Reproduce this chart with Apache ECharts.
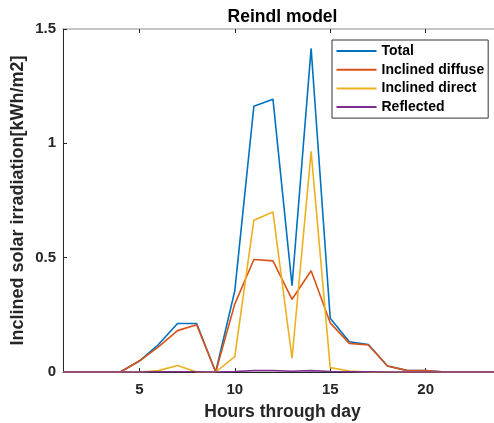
<!DOCTYPE html>
<html>
<head>
<meta charset="utf-8">
<script src="https://cdn.jsdelivr.net/npm/echarts@6/dist/echarts.min.js"></script>
<style>
  html, body { margin: 0; padding: 0; background: #fff; }
  #chart { width: 494px; height: 423px; }
</style>
</head>
<body>
<div id="chart"></div>
<script>
// Hourly irradiation components on the inclined plane (Reindl model)
const hours = [1, 2, 3, 4, 5, 6, 7, 8, 9, 10, 11, 12, 13, 14, 15, 16, 17, 18, 19, 20, 21, 22, 23, 24];
const total     = [0, 0, 0, 0, 0.048, 0.12, 0.212, 0.212, 0, 0.355, 1.162, 1.193, 0.377, 1.415, 0.235, 0.132, 0.12, 0.026, 0.007, 0.006, 0, 0, 0, 0];
const diffuse   = [0, 0, 0, 0, 0.048, 0.11, 0.181, 0.207, 0, 0.297, 0.492, 0.486, 0.318, 0.443, 0.215, 0.125, 0.118, 0.026, 0.007, 0.006, 0, 0, 0, 0];
const direct    = [0, 0, 0, 0, 0, 0.006, 0.028, 0, 0, 0.067, 0.664, 0.70, 0.06, 0.965, 0.019, 0.004, 0, 0, 0, 0, 0, 0, 0, 0];
const reflected = [0, 0, 0, 0, 0, 0.001, 0.001, 0.001, 0, 0.002, 0.006, 0.006, 0.003, 0.006, 0.002, 0.001, 0.001, 0, 0, 0, 0, 0, 0, 0];

const seriesNames = ['Total', 'Inclined diffuse', 'Inclined direct', 'Reflected'];
const seriesData = [total, diffuse, direct, reflected];
const colors = ['#0072BD', '#D95319', '#EDB120', '#7E2F8E'];

const xTicks = [5, 10, 15, 20];
const yTicks = [0, 0.5, 1, 1.5];

const FONT = "'Liberation Sans', Arial, Helvetica, sans-serif";
const INK = '#262626';

const chart = echarts.init(document.getElementById('chart'), null, { renderer: 'canvas' });

const baseX = {
  type: 'value',
  min: 1,
  max: 24,
  splitLine: { show: false },
  axisTick: { show: true, inside: true, length: 4, customValues: xTicks, lineStyle: { color: INK, width: 1 } }
};

chart.setOption({
  animation: false,
  color: colors,
  grid: { left: 63, top: 29, width: 439, height: 343, containLabel: false, outerBoundsMode: 'none' },
  graphic: [{
    type: 'text',
    x: 282.5,
    y: 17,
    style: {
      text: 'Reindl model',
      font: 'bold 17.5px ' + FONT,
      fill: '#000',
      textAlign: 'center',
      textVerticalAlign: 'middle'
    }
  }],
  legend: {
    orient: 'vertical',
    left: 332,
    top: 40,
    padding: [3, 4, 3, 4.5],
    itemGap: 2.7,
    itemWidth: 40,
    itemHeight: 2,
    icon: 'rect',
    backgroundColor: '#fff',
    borderColor: '#333',
    borderWidth: 1,
    borderRadius: 0,
    textStyle: { fontFamily: FONT, fontWeight: 'bold', fontSize: 14, lineHeight: 16, color: '#000' },
    data: seriesNames
  },
  xAxis: [
    Object.assign({}, baseX, {
      position: 'bottom',
      name: 'Hours through day',
      nameLocation: 'middle',
      nameGap: 31,
      nameMoveOverlap: false,
      nameTextStyle: { fontFamily: FONT, fontWeight: 'bold', fontSize: 17.5, color: INK },
      axisLine: { show: true, onZero: false, lineStyle: { color: INK, width: 1 } },
      axisLabel: {
        show: true,
        customValues: xTicks,
        margin: 10,
        fontFamily: FONT, fontWeight: 'bold', fontSize: 15, color: INK
      }
    }),
    Object.assign({}, baseX, {
      position: 'top',
      axisLine: { show: true, onZero: false, lineStyle: { color: '#b4b4b4', width: 1.5 } },
      axisLabel: { show: false }
    })
  ],
  yAxis: {
    type: 'value',
    min: 0,
    max: 1.5,
    interval: 0.5,
    name: 'Inclined solar irradiation[kWh/m2]',
    nameLocation: 'middle',
    nameGap: 36,
    nameMoveOverlap: false,
    nameTextStyle: { fontFamily: FONT, fontWeight: 'bold', fontSize: 18, color: INK },
    splitLine: { show: false },
    axisLine: { show: true, onZero: false, lineStyle: { color: INK, width: 1 } },
    axisTick: { show: true, inside: true, length: 4, lineStyle: { color: INK, width: 1 } },
    axisLabel: {
      show: true,
      customValues: yTicks,
      margin: 7,
      formatter: v => String(v),
      fontFamily: FONT, fontWeight: 'bold', fontSize: 15, color: INK
    }
  },
  series: seriesNames.map((name, i) => ({
    name: name,
    type: 'line',
    xAxisIndex: 0,
    data: hours.map((h, k) => [h, seriesData[i][k]]),
    showSymbol: false,
    symbol: 'none',
    lineStyle: { width: 1.6, color: colors[i] },
    itemStyle: { color: colors[i] },
    clip: true,
    z: 2 + i
  }))
});
</script>
</body>
</html>
